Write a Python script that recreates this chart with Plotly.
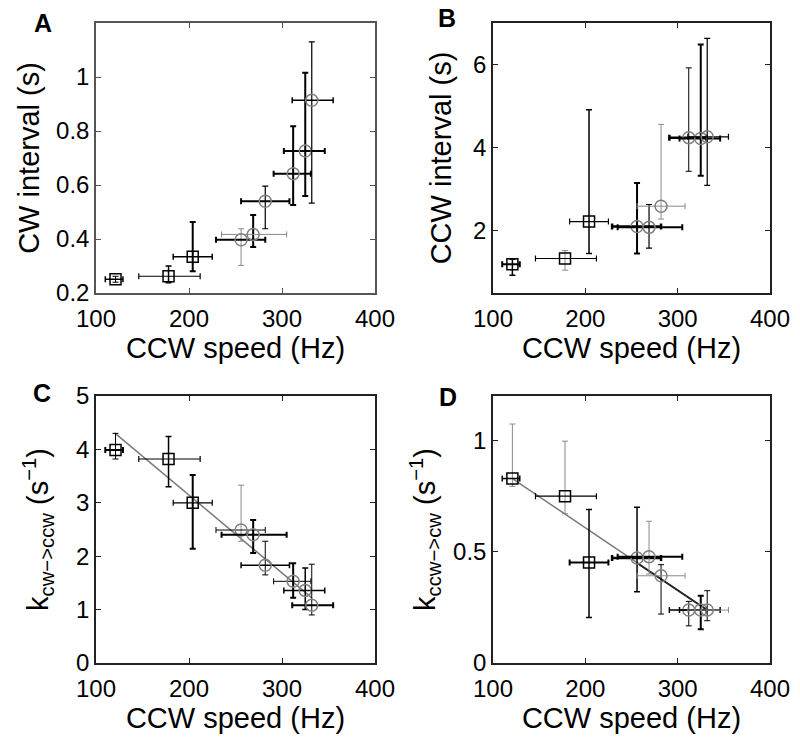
import plotly.graph_objects as go

# ---------------- data ----------------
speed = [121, 178, 204, 256, 269, 282, 312, 325, 332]
speed_lo = [110, 146, 183, 229, 235, 256, 291, 302, 311]
speed_hi = [129, 212, 225, 282, 305, 308, 331, 346, 355]

cw_interval = [0.251, 0.262, 0.334, 0.397, 0.417, 0.540, 0.642, 0.726, 0.914]
cw_interval_hi = [0.262, 0.300, 0.463, 0.438, 0.489, 0.596, 0.818, 1.016, 1.130]
cw_interval_lo = [0.240, 0.238, 0.281, 0.302, 0.370, 0.438, 0.526, 0.559, 0.533]

ccw_interval = [1.19, 1.33, 2.22, 2.10, 2.08, 2.59, 4.24, 4.22, 4.26]
ccw_interval_hi = [1.31, 1.52, 4.91, 3.15, 2.63, 4.56, 5.92, 6.48, 6.63]
ccw_interval_lo = [0.93, 1.05, 1.45, 1.45, 1.58, 2.28, 3.43, 3.32, 3.09]

k_cw_ccw = [3.99, 3.82, 3.00, 2.49, 2.40, 1.83, 1.53, 1.36, 1.08]
k_cw_ccw_hi = [4.30, 4.24, 3.52, 3.33, 2.68, 2.28, 1.87, 1.78, 1.85]
k_cw_ccw_lo = [3.82, 3.30, 2.14, 2.28, 2.06, 1.65, 1.22, 1.00, 0.90]

k_ccw_cw = [0.829, 0.750, 0.452, 0.472, 0.478, 0.392, 0.238, 0.238, 0.238]
k_ccw_cw_hi = [1.074, 0.997, 0.690, 0.700, 0.637, 0.442, 0.277, 0.302, 0.325]
k_ccw_cw_lo = [0.794, 0.671, 0.204, 0.320, 0.400, 0.220, 0.167, 0.152, 0.190]

fitC_x = [120, 332]
fitC_y = [4.31, 1.22]
fitD_x = [121, 333]
fitD_y = [0.829, 0.235]
fitD2_x = [256, 333]
fitD2_y = [0.45, 0.235]

x_ticks = [100, 200, 300, 400]
A_ticks = [0.2, 0.4, 0.6, 0.8, 1]
A_ticktext = ["0.2", "0.4", "0.6", "0.8", "1"]
B_ticks = [2, 4, 6]
C_ticks = [0, 1, 2, 3, 4, 5]
D_ticks = [0, 0.5, 1]
D_ticktext = ["0", "0.5", "1"]

# ---------------- styles ----------------
symbols = ["square-open"] * 3 + ["circle-open"] * 6
mcolors = ["black"] * 3 + ["#808080"] * 6
K, G = "black", "#8a8a8a"
styles = {
    "A": dict(xc=[K, K, K, K, G, K, K, K, K], xw=[1.5, 1.2, 1.5, 2, 1, 2, 2, 2, 1.5],
              yc=[K, K, K, G, K, K, K, K, K], yw=[1, 1.5, 2, 1, 2, 1.2, 2, 2, 1.2]),
    "B": dict(xc=[K, K, K, K, K, G, K, K, K], xw=[2, 1.2, 1.2, 2.5, 2, 1, 2.5, 2, 1.2],
              yc=[K, G, K, K, K, G, K, K, K], yw=[1.5, 1, 1.5, 2, 1.2, 1, 1, 2, 1.2]),
    "C": dict(xc=[K] * 9, xw=[2, 1.2, 1.2, 1, 2, 1.5, 1, 1.5, 2],
              yc=[K, K, K, G, K, K, K, K, K], yw=[1, 1.5, 2, 1, 2, 1, 2, 1.5, 1]),
    "D": dict(xc=[K, K, K, K, K, G, K, K, G], xw=[1.5, 1.2, 2, 2.5, 2, 1, 1.5, 1.5, 1],
              yc=[G, G, K, K, G, K, K, K, K], yw=[1, 1, 1.5, 1.5, 1, 1, 1, 2, 1]),
}

FONT = "Liberation Sans, Arial, sans-serif"
fig = go.Figure()

panels = [
    ("A", "x", "y", cw_interval, cw_interval_lo, cw_interval_hi),
    ("B", "x2", "y2", ccw_interval, ccw_interval_lo, ccw_interval_hi),
    ("C", "x3", "y3", k_cw_ccw, k_cw_ccw_lo, k_cw_ccw_hi),
    ("D", "x4", "y4", k_ccw_cw, k_ccw_cw_lo, k_ccw_cw_hi),
]

# fit lines first (under markers)
fig.add_trace(go.Scatter(x=fitC_x, y=fitC_y, mode="lines", xaxis="x3", yaxis="y3",
                         line=dict(color="#7a7a7a", width=1.5), showlegend=False, hoverinfo="skip"))
fig.add_trace(go.Scatter(x=fitD_x, y=fitD_y, mode="lines", xaxis="x4", yaxis="y4",
                         line=dict(color="#7a7a7a", width=1.5), showlegend=False, hoverinfo="skip"))
fig.add_trace(go.Scatter(x=fitD2_x, y=fitD2_y, mode="lines", xaxis="x4", yaxis="y4",
                         line=dict(color="#222222", width=1.8), showlegend=False, hoverinfo="skip"))

for name, xa, ya, vals, lo, hi in panels:
    st = styles[name]
    for i in range(len(speed)):
        fig.add_trace(go.Scatter(
            x=[speed[i]], y=[vals[i]], mode="markers", xaxis=xa, yaxis=ya,
            marker=dict(symbol=symbols[i], size=11 if i < 3 else 12, color=mcolors[i],
                        line=dict(width=1.5, color=mcolors[i])),
            error_x=dict(type="data", symmetric=False,
                         array=[speed_hi[i] - speed[i]], arrayminus=[speed[i] - speed_lo[i]],
                         color=st["xc"][i], thickness=st["xw"][i], width=3),
            error_y=dict(type="data", symmetric=False,
                         array=[hi[i] - vals[i]], arrayminus=[vals[i] - lo[i]],
                         color=st["yc"][i], thickness=st["yw"][i], width=3),
            showlegend=False, hoverinfo="skip"))

W, H = 800, 744
def dx(a, b):
    return [a / W, b / W]
def dy(top, bottom):
    return [1 - bottom / H, 1 - top / H]

tickfont = dict(family=FONT, size=24, color="black")
titlefont = dict(family=FONT, size=29, color="black")

def xaxis(domain, anchor, linecolor):
    return dict(domain=domain, anchor=anchor, range=[100, 400], tickvals=x_ticks,
                ticks="inside", ticklen=5, tickcolor=linecolor, showline=True, mirror="ticks",
                linecolor=linecolor, linewidth=1.5, showgrid=False, zeroline=False,
                tickfont=tickfont, automargin=False, ticklabelstandoff=3,
                title=dict(text="CCW speed (Hz)", font=titlefont, standoff=4))

def yaxis(domain, anchor, rng, tv, tt, title, linecolor, standoff):
    return dict(domain=domain, anchor=anchor, range=rng, tickvals=tv, ticktext=tt,
                ticks="inside", ticklen=5, tickcolor=linecolor, showline=True, mirror="ticks",
                linecolor=linecolor, linewidth=1.5, showgrid=False, zeroline=False,
                tickfont=tickfont, automargin=False,
                title=dict(text=title, font=titlefont, standoff=standoff))

top_y = dy(23, 293)
bot_y = dy(396, 663)
left_x = dx(96, 375)
right_x = dx(493, 770)

fig.update_layout(
    width=W, height=H, margin=dict(l=0, r=0, t=0, b=0, autoexpand=False),
    paper_bgcolor="white", plot_bgcolor="white", showlegend=False,
    font=dict(family=FONT, color="black"),
    xaxis=xaxis(left_x, "y", "#555555"),
    yaxis=yaxis(top_y, "x", [0.2, 1.2], A_ticks, A_ticktext, "CW interval (s)", "#555555", 8),
    xaxis2=xaxis(right_x, "y2", "#222222"),
    yaxis2=yaxis(top_y, "x2", [0.5, 7], B_ticks, [str(v) for v in B_ticks],
                 "CCW interval (s)", "#222222", 13),
    xaxis3=xaxis(left_x, "y3", "#222222"),
    yaxis3=yaxis(bot_y, "x3", [0, 5], C_ticks, [str(v) for v in C_ticks],
                 "k<sub>cw−>ccw</sub> (s<sup>−1</sup>)", "#222222", 19),
    xaxis4=xaxis(right_x, "y4", "#222222"),
    yaxis4=yaxis(bot_y, "x4", [0, 1.2], D_ticks, D_ticktext,
                 "k<sub>ccw−>cw</sub> (s<sup>−1</sup>)", "#222222", 9),
)

letters = [("A", 43, 23), ("B", 447, 18), ("C", 42, 393), ("D", 448, 397)]
for t, px, py in letters:
    fig.add_annotation(text="<b>%s</b>" % t, x=px / W, y=1 - py / H, xref="paper", yref="paper",
                       showarrow=False, xanchor="center", yanchor="middle",
                       font=dict(family=FONT, size=25, color="black"))

fig.write_html("out.html", config={"displayModeBar": False},
               post_script="document.body.style.margin='0';document.body.style.overflow='hidden';")
